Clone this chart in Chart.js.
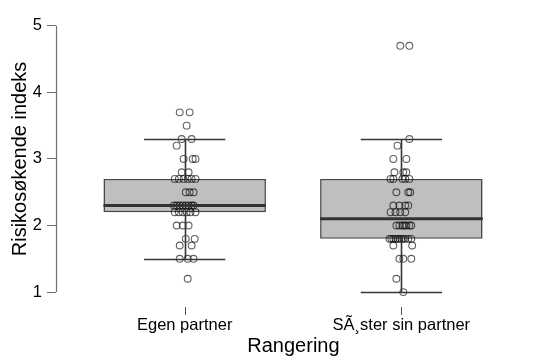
<!DOCTYPE html>
<html>
<head>
<meta charset="utf-8">
<script src="https://cdn.jsdelivr.net/npm/chart.js@4"></script>
<style>
  html, body { margin: 0; padding: 0; background: #fff; }
  #c { display: block; }
</style>
</head>
<body>
<canvas id="c" width="536" height="356"></canvas>
<script>
// Groups on the horizontal axis
const groups = ['Egen partner', 'SÃ¸ster sin partner'];
const yTicks = [1, 2, 3, 4, 5];

// Box statistics per group
const whiskerLow  = [1.5, 1.0];
const quartile1   = [2.2, 1.8];
const medians     = [2.3, 2.1];
const quartile3   = [2.7, 2.7];
const whiskerHigh = [3.3, 3.3];

// Individual index scores, with the horizontal jitter (in group units) each point is drawn with
const egenValues = [
  3.7, 3.7, 3.5, 3.3, 3.3, 3.2, 3.0, 3.0, 3.0, 2.8, 2.8,
  2.7, 2.7, 2.7, 2.7, 2.7, 2.7, 2.5, 2.5, 2.5,
  2.3, 2.3, 2.3, 2.3, 2.3, 2.3, 2.3, 2.3,
  2.2, 2.2, 2.2, 2.2, 2.2, 2.2, 2.0, 2.0, 2.0,
  1.8, 1.8, 1.7, 1.7, 1.5, 1.5, 1.5, 1.2
];
const egenJitter = [
  -0.023, 0.023, 0.009, -0.014, 0.032, -0.037, -0.005, 0.037, 0.050, -0.014, 0.018,
  -0.046, -0.027, -0.005, 0.014, 0.032, 0.050, 0.005, 0.023, 0.041,
  -0.050, -0.037, -0.023, -0.009, 0.005, 0.018, 0.032, 0.041,
  -0.046, -0.027, -0.009, 0.009, 0.027, 0.050, -0.037, -0.009, 0.018,
  0.005, 0.046, -0.023, 0.032, -0.023, 0.014, 0.041, 0.014
];
const sosterValues = [
  4.7, 4.7, 3.3, 3.2, 3.0, 3.0, 2.8, 2.8, 2.8,
  2.7, 2.7, 2.7, 2.7, 2.7, 2.5, 2.5, 2.5,
  2.3, 2.3, 2.3, 2.3, 2.2, 2.2, 2.2, 2.2,
  2.0, 2.0, 2.0, 2.0, 2.0, 2.0, 2.0,
  1.8, 1.8, 1.8, 1.8, 1.8, 1.8, 1.8, 1.8, 1.8, 1.8, 1.8,
  1.7, 1.7, 1.5, 1.5, 1.5, 1.2, 1.0
];
const sosterJitter = [
  -0.005, 0.037, 0.037, -0.018, -0.037, 0.023, -0.032, 0.009, 0.023,
  -0.050, -0.037, 0.005, 0.018, 0.037, -0.023, 0.032, 0.041,
  -0.037, -0.009, 0.018, 0.032, -0.050, -0.027, -0.005, 0.018,
  -0.023, -0.009, 0.005, 0.014, 0.023, 0.037, 0.046,
  -0.055, -0.046, -0.037, -0.027, -0.018, -0.009, 0.000, 0.009, 0.018, 0.032, 0.046,
  -0.037, 0.050, -0.009, 0.009, 0.046, -0.023, 0.009
];

const BOX_WIDTH = 0.75;   // in group units
const CAP_WIDTH = 0.375;

const toPoints = (vals, jit, pos) => vals.map((v, i) => ({ x: pos + jit[i], y: v }));

// Boxes as floating bars from Q1 to Q3
const boxData = groups.map((g, i) => ({ x: i + 1, y: [quartile1[i], quartile3[i]] }));

// Whiskers, caps, medians and the R-style axis pieces
const boxplotDecor = {
  id: 'boxplotDecor',
  afterDatasetsDraw(chart) {
    const { ctx, scales: { x, y } } = chart;
    ctx.save();
    groups.forEach((g, i) => {
      const pos = i + 1;
      const cx = Math.round(x.getPixelForValue(pos)) + 0.5;
      const bl = x.getPixelForValue(pos - BOX_WIDTH / 2);
      const br = x.getPixelForValue(pos + BOX_WIDTH / 2);
      const cl = x.getPixelForValue(pos - CAP_WIDTH / 2);
      const cr = x.getPixelForValue(pos + CAP_WIDTH / 2);
      ctx.strokeStyle = '#363636';
      ctx.lineWidth = 1.6;
      ctx.beginPath();
      ctx.moveTo(cx, y.getPixelForValue(quartile3[i]));
      ctx.lineTo(cx, y.getPixelForValue(whiskerHigh[i]));
      ctx.moveTo(cx, y.getPixelForValue(quartile1[i]));
      ctx.lineTo(cx, y.getPixelForValue(whiskerLow[i]));
      ctx.stroke();
      ctx.beginPath();
      const yh = Math.round(y.getPixelForValue(whiskerHigh[i])) + 0.5;
      const yl = Math.round(y.getPixelForValue(whiskerLow[i])) + 0.5;
      ctx.moveTo(cl, yh); ctx.lineTo(cr, yh);
      ctx.moveTo(cl, yl); ctx.lineTo(cr, yl);
      ctx.stroke();
      ctx.strokeStyle = '#333333';
      ctx.lineWidth = 3;
      ctx.beginPath();
      const ym = y.getPixelForValue(medians[i]);
      ctx.moveTo(bl, ym); ctx.lineTo(br, ym);
      ctx.stroke();
    });
    ctx.restore();
  },
  afterDraw(chart) {
    const { ctx, chartArea, scales: { x, y } } = chart;
    ctx.save();
    ctx.strokeStyle = '#6e6e6e';
    ctx.lineWidth = 1.2;
    // vertical axis spans the tick range only
    const ax = chartArea.left + 0.5;
    ctx.beginPath();
    ctx.moveTo(ax, y.getPixelForValue(yTicks[0]));
    ctx.lineTo(ax, y.getPixelForValue(yTicks[yTicks.length - 1]));
    ctx.stroke();
    // group tick marks below the plot
    ctx.lineWidth = 1;
    ctx.strokeStyle = '#555555';
    groups.forEach((g, i) => {
      const px = Math.round(x.getPixelForValue(i + 1)) + 0.5;
      ctx.beginPath();
      ctx.moveTo(px, chartArea.bottom + 4);
      ctx.lineTo(px, chartArea.bottom + 12);
      ctx.stroke();
    });
    ctx.restore();
  }
};

const FONT = "'Liberation Sans', Arial, sans-serif";

new Chart(document.getElementById('c'), {
  type: 'scatter',
  data: {
    datasets: [
      {
        type: 'scatter',
        data: toPoints(egenValues, egenJitter, 1),
        pointRadius: 3.4,
        pointBorderWidth: 1.1,
        pointBackgroundColor: 'rgba(0,0,0,0)',
        pointBorderColor: 'rgba(0,0,0,0.62)',
        order: 1
      },
      {
        type: 'scatter',
        data: toPoints(sosterValues, sosterJitter, 2),
        pointRadius: 3.4,
        pointBorderWidth: 1.1,
        pointBackgroundColor: 'rgba(0,0,0,0)',
        pointBorderColor: 'rgba(0,0,0,0.62)',
        order: 1
      },
      {
        type: 'bar',
        data: boxData,
        backgroundColor: '#bfbfbf',
        borderColor: '#474747',
        borderWidth: 1.6,
        borderSkipped: false,
        barPercentage: BOX_WIDTH,
        categoryPercentage: 1,
        order: 3
      }
    ]
  },
  options: {
    responsive: false,
    animation: false,
    events: [],
    layout: { padding: { top: 13, right: 0, bottom: 0, left: 0 } },
    plugins: { legend: { display: false }, tooltip: { enabled: false } },
    scales: {
      x: {
        type: 'linear',
        offset: false,
        min: 0.406,
        max: 2.598,
        afterFit(scale) { scale.height = 53; },
        afterBuildTicks(scale) { scale.ticks = groups.map((g, i) => ({ value: i + 1 })); },
        grid: { display: false, drawTicks: false, offset: false },
        border: { display: false },
        ticks: {
          autoSkip: false,
          maxRotation: 0,
          padding: 13,
          color: '#000',
          font: { family: FONT, size: 16.5 },
          callback: (v) => groups[Math.round(v) - 1] || ''
        },
        title: {
          display: true,
          text: 'Rangering',
          color: '#000',
          font: { family: FONT, size: 20 },
          padding: { top: 0, bottom: -2 }
        }
      },
      y: {
        type: 'linear',
        min: 0.836,
        max: 5.164,
        afterFit(scale) { scale.width = 56; },
        afterBuildTicks(scale) { scale.ticks = yTicks.map(v => ({ value: v })); },
        grid: {
          drawOnChartArea: false,
          drawTicks: true,
          tickLength: 9,
          tickColor: '#6e6e6e',
          lineWidth: 1
        },
        border: { display: false },
        ticks: {
          padding: 5,
          color: '#000',
          font: { family: FONT, size: 16.5 },
          callback: (v) => String(v)
        },
        title: {
          display: true,
          text: 'Risikosøkende indeks',
          color: '#000',
          font: { family: FONT, size: 20 },
          padding: { top: 8, bottom: 0 }
        }
      }
    }
  },
  plugins: [boxplotDecor]
});
</script>
</body>
</html>
